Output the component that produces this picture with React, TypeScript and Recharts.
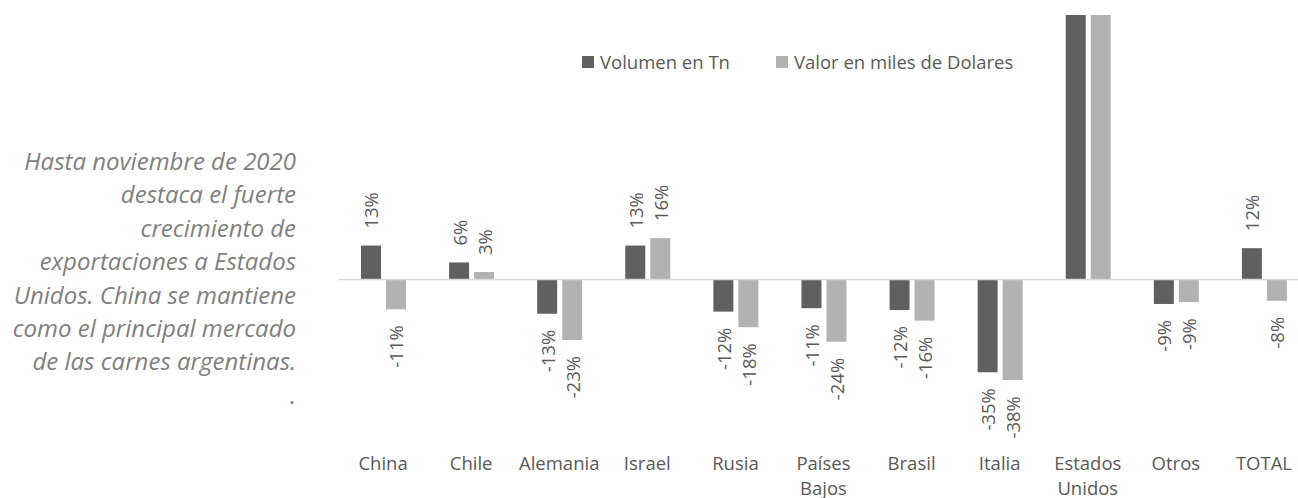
import React from 'react';
import { BarChart, Bar, XAxis, YAxis, ReferenceLine, Legend, LabelList } from 'recharts';

const categories = ['China', 'Chile', 'Alemania', 'Israel', 'Rusia', 'Países Bajos', 'Brasil', 'Italia', 'Estados Unidos', 'Otros', 'TOTAL'];
const volumenTn = [12.8, 6.4, -13.0, 12.8, -12.2, -10.9, -11.6, -35.1, 150, -9.3, 11.8];
const valorMilesDolares = [-11.3, 2.8, -22.9, 15.6, -18.1, -23.6, -15.6, -38.1, 140, -8.6, -8.1];
const seriesNames = ['Volumen en Tn', 'Valor en miles de Dolares'];
const seriesColors = ['#606060', '#b2b2b2'];
const yDomain: [number, number] = [-60, 100];
const noteLines = [
  'Hasta noviembre de 2020',
  'destaca el fuerte',
  'crecimiento de',
  'exportaciones a Estados',
  'Unidos. China se mantiene',
  'como el principal mercado',
  'de las carnes argentinas.',
  '.',
];

const data = categories.map((c, i) => ({ name: c, vol: volumenTn[i], val: valorMilesDolares[i] }));

const FONT = '"Open Sans", "DejaVu Sans", sans-serif';
const TEXT = '#595959';
const FS = 18.5;

const CategoryTick = (props: any) => {
  const { x, y, payload } = props;
  const lines = String(payload.value).split(' ');
  return (
    <text x={x} y={y + 24} textAnchor="middle" fill={TEXT} fontSize={FS} fontFamily={FONT}>
      {lines.map((l, i) => (
        <tspan key={i} x={x} dy={i === 0 ? 0 : 25}>{l}</tspan>
      ))}
    </text>
  );
};

const renderValueLabel = (props: any) => {
  const { x, y, width, height, value } = props;
  if (value == null || value > yDomain[1]) return null;
  const top = Math.min(y, y + height);
  const bottom = Math.max(y, y + height);
  const cx = x + width / 2;
  const pos = value >= 0;
  const py = pos ? top - 17 : bottom + 16;
  return (
    <text
      x={cx}
      y={py}
      transform={`rotate(-90 ${cx} ${py})`}
      textAnchor={pos ? 'start' : 'end'}
      dominantBaseline="central"
      fill={TEXT}
      fontSize={FS}
      fontFamily={FONT}
    >
      {`${Math.round(value)}%`}
    </text>
  );
};

const LegendContent = () => (
  <div style={{ position: 'relative', width: 600, height: 24, fontFamily: FONT, fontSize: FS, color: TEXT }}>
    {seriesNames.map((n, i) => (
      <div key={n} style={{ position: 'absolute', left: i === 0 ? 0 : 194, top: 0, display: 'flex', alignItems: 'center', whiteSpace: 'nowrap', lineHeight: '24px' }}>
        <span style={{ display: 'inline-block', width: 12, height: 12, background: seriesColors[i], marginRight: 6 }} />
        <span>{n}</span>
      </div>
    ))}
  </div>
);

export default function App() {
  return (
    <div style={{ position: 'absolute', left: 0, top: 0, width: 1298, height: 498, overflow: 'hidden', background: '#fff' }}>
      <div
        style={{
          position: 'absolute',
          left: 0,
          top: 144,
          width: 296,
          textAlign: 'right',
          fontFamily: FONT,
          fontStyle: 'italic',
          fontSize: 24,
          lineHeight: '33.4px',
          color: '#7f7f7f',
        }}
      >
        {noteLines.map((l, i) => (
          <div key={i}>{l}</div>
        ))}
      </div>
      <div style={{ position: 'absolute', left: 0, top: 0 }}>
        <BarChart
          width={1320}
          height={498}
          data={data}
          margin={{ top: 15, right: 12, bottom: 0, left: 339 }}
          barSize={20}
          barGap={5}
        >
          <XAxis dataKey="name" height={60} axisLine={false} tickLine={false} tick={<CategoryTick />} interval={0} />
          <YAxis hide domain={yDomain} allowDataOverflow type="number" />
          <Legend
            layout="horizontal"
            verticalAlign="middle"
            align="center"
            content={<LegendContent />}
            wrapperStyle={{ position: 'absolute', left: 582, top: 50, width: 600, height: 24 }}
          />
          <Bar dataKey="vol" name={seriesNames[0]} fill={seriesColors[0]} isAnimationActive={false}>
            <LabelList dataKey="vol" content={renderValueLabel} />
          </Bar>
          <Bar dataKey="val" name={seriesNames[1]} fill={seriesColors[1]} isAnimationActive={false}>
            <LabelList dataKey="val" content={renderValueLabel} />
          </Bar>
          <ReferenceLine y={0} stroke="#d9d9d9" strokeWidth={1.5} />
        </BarChart>
      </div>
    </div>
  );
}
